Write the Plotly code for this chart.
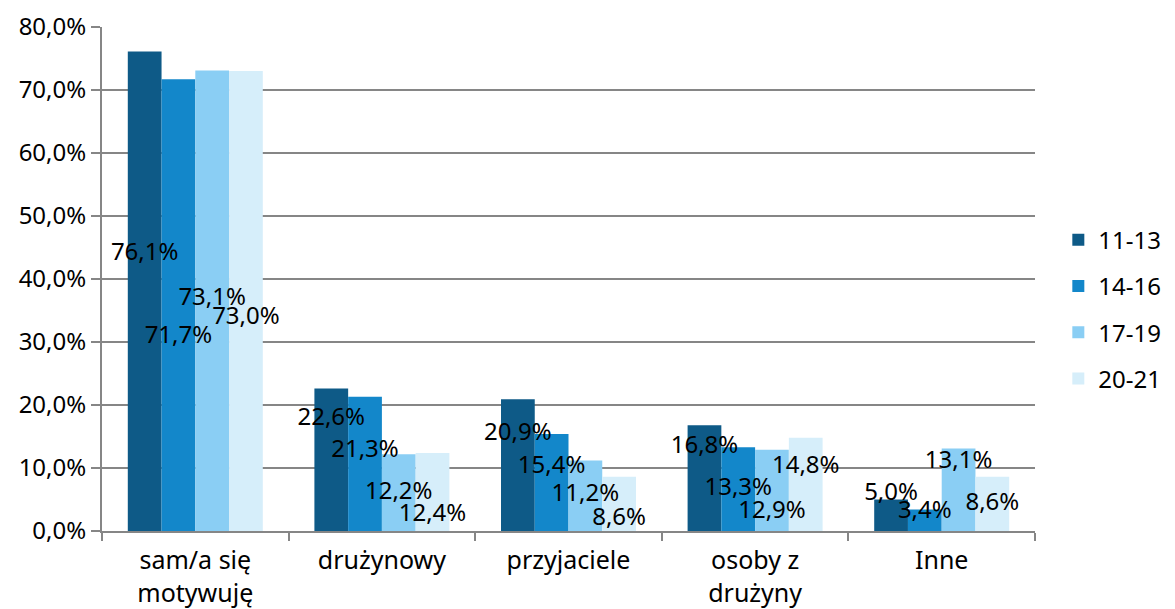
import plotly.graph_objects as go

categories = ["sam/a się<br>motywuję", "drużynowy", "przyjaciele", "osoby z<br>drużyny", "Inne"]
series_names = ["11-13", "14-16", "17-19", "20-21"]
values = {
    "11-13": [76.1, 22.6, 20.9, 16.8, 5.0],
    "14-16": [71.7, 21.3, 15.4, 13.3, 3.4],
    "17-19": [73.1, 12.2, 11.2, 12.9, 13.1],
    "20-21": [73.0, 12.4, 8.6, 14.8, 8.6],
}
# heights (in axis units) at which the data labels sit in the original
label_heights = {
    "11-13": [44.0, 17.8, 15.4, 13.3, 5.9],
    "14-16": [30.8, 12.7, 10.2, 6.7, 3.0],
    "17-19": [36.8, 6.1, 5.7, 3.0, 11.0],
    "20-21": [33.8, 2.5, 1.9, 10.1, 4.3],
}
y_ticks = [0, 10, 20, 30, 40, 50, 60, 70, 80]

colors = ["#0E5A87", "#1387CA", "#8ACEF4", "#D6EEFA"]
FONT = "Noto Sans"
BARGAP = 0.2765

fig = go.Figure()
for name, col in zip(series_names, colors):
    fig.add_trace(go.Bar(
        name=name, x=categories, y=values[name],
        marker=dict(color=col, line=dict(width=0)),
        legendgroup=name,
    ))

n = len(series_names)
w = (1 - BARGAP) / n
for i, name in enumerate(series_names):
    xs = [k + (i - (n - 1) / 2) * w for k in range(len(categories))]
    fig.add_trace(go.Scatter(
        x=xs, y=label_heights[name], xaxis="x2", yaxis="y",
        mode="text",
        text=[f"{v:.1f}".replace(".", ",") + "%" for v in values[name]],
        textposition="middle center",
        textfont=dict(family=FONT, size=24, color="#000000"),
        showlegend=False, hoverinfo="skip", cliponaxis=False,
    ))

fig.update_layout(
    width=1175, height=609,
    paper_bgcolor="white", plot_bgcolor="white",
    barmode="group", bargap=BARGAP, bargroupgap=0,
    margin=dict(l=102, r=140, t=27, b=78, autoexpand=False),
    font=dict(family=FONT, size=22, color="#000000"),
    xaxis=dict(
        type="category", range=[-0.5, 4.5], automargin=False,
        showline=True, linecolor="#868686", linewidth=2,
        ticks="outside", tickson="boundaries", ticklen=8, tickwidth=2, tickcolor="#868686",
        tickfont=dict(family=FONT, size=25), showgrid=False,
        ticklabelstandoff=6,
    ),
    xaxis2=dict(overlaying="x", range=[-0.5, 4.5], visible=False, showgrid=False),
    yaxis=dict(
        range=[0, 80], tickvals=y_ticks, automargin=False,
        ticktext=[f"{t:.1f}".replace(".", ",") + "%" for t in y_ticks],
        showgrid=True, gridcolor="#868686", gridwidth=2,
        showline=True, linecolor="#868686", linewidth=2,
        ticks="outside", ticklen=9, tickwidth=2, tickcolor="#868686",
        tickfont=dict(family=FONT, size=24), zeroline=False,
    ),
    legend=dict(
        x=1.025, xanchor="left", y=0.44, yanchor="middle",
        font=dict(family=FONT, size=24), tracegroupgap=12,
        bgcolor="rgba(0,0,0,0)",
    ),
)

fig.write_html(
    "out.html",
    config={"displayModeBar": False},
    post_script="document.body.style.margin='0';document.body.style.padding='0';",
)
